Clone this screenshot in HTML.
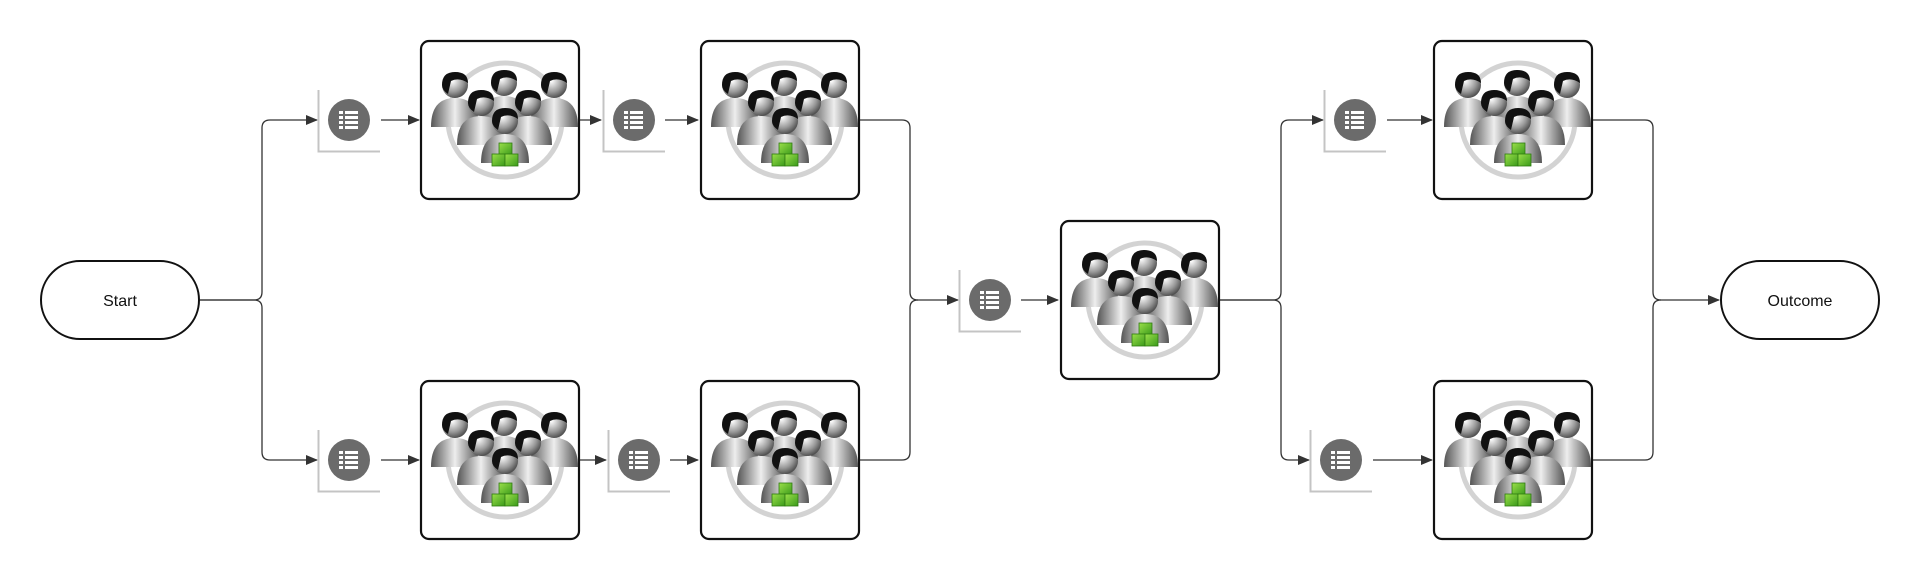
<!DOCTYPE html>
<html><head><meta charset="utf-8"><style>
html,body{margin:0;padding:0;background:#fff;width:1920px;height:580px;overflow:hidden}
text{font-family:"Liberation Sans",sans-serif}
</style></head><body>
<svg width="1920" height="580" viewBox="0 0 1920 580" xmlns="http://www.w3.org/2000/svg">
<defs>
<radialGradient id="hg" cx="0.4" cy="0.35" r="0.7"><stop offset="0" stop-color="#fff"/><stop offset="0.6" stop-color="#999"/><stop offset="1" stop-color="#444"/></radialGradient>
<linearGradient id="bg" x1="0" x2="1" y1="0" y2="0"><stop offset="0" stop-color="#555"/><stop offset="0.5" stop-color="#eee"/><stop offset="1" stop-color="#555"/></linearGradient>
<linearGradient id="gg" x1="0" x2="1" y1="0" y2="1"><stop offset="0" stop-color="#9be04a"/><stop offset="1" stop-color="#3a9a1a"/></linearGradient>
<marker id="ar" markerWidth="12" markerHeight="10" refX="11" refY="5" orient="auto" markerUnits="userSpaceOnUse"><path d="M0,0 L12,5 L0,10 Z" fill="#333"/></marker>
<g id="pp">
<path d="M-24,42 Q-24,13 0,13 Q24,13 24,42 Z" fill="url(#bg)"/>
<circle cx="0" cy="0" r="13" fill="url(#hg)"/>
<path d="M-13,0 Q-13,-13 0,-13 Q13,-13 13,-2 Q4,-8 -4,-4 L-7,9 Q-13,5 -13,0 Z" fill="#111"/>
</g>
<g id="ppl">
<circle cx="85" cy="80" r="57" fill="none" stroke="#d3d3d3" stroke-width="5"/>
<use href="#pp" x="35" y="45"/>
<use href="#pp" x="134" y="45"/>
<use href="#pp" x="84" y="43"/>
<use href="#pp" x="61" y="63"/>
<use href="#pp" x="108" y="63"/>
<use href="#pp" x="85" y="81"/>
<rect x="79" y="103" width="13" height="12" fill="url(#gg)" stroke="#2d7a10" stroke-width="0.8"/>
<rect x="72" y="114" width="13" height="12" fill="url(#gg)" stroke="#2d7a10" stroke-width="0.8"/>
<rect x="85" y="114" width="13" height="12" fill="url(#gg)" stroke="#2d7a10" stroke-width="0.8"/>
</g>
<g id="doc">
<path d="M0.5,0 L0.5,61.5 L62,61.5" fill="none" stroke="#c4c4c4" stroke-width="2"/>
<circle cx="31" cy="30" r="21" fill="#6b6b6b"/>
<g fill="#fff"><rect x="21" y="21" width="4" height="3"/><rect x="27" y="21" width="13" height="3"/><rect x="21" y="26" width="4" height="3"/><rect x="27" y="26" width="13" height="3"/><rect x="21" y="31" width="4" height="3"/><rect x="27" y="31" width="13" height="3"/><rect x="21" y="36" width="4" height="3"/><rect x="27" y="36" width="13" height="3"/></g>
</g>
<g id="box"><rect x="1" y="1" width="158" height="158" rx="8" fill="#fff" stroke="#111" stroke-width="2.2"/><use href="#ppl"/></g>
</defs>

<g fill="none" stroke="#333" stroke-width="1.3">
<path d="M200,300 H254 Q262,300 262,292 V128 Q262,120 270,120 H317" marker-end="url(#ar)"/>
<path d="M200,300 H254 Q262,300 262,308 V452 Q262,460 270,460 H317" marker-end="url(#ar)"/>
<path d="M381,120 H419" marker-end="url(#ar)"/>
<path d="M381,460 H419" marker-end="url(#ar)"/>
<path d="M580,120 H601" marker-end="url(#ar)"/>
<path d="M580,460 H606" marker-end="url(#ar)"/>
<path d="M665,120 H698" marker-end="url(#ar)"/>
<path d="M670,460 H698" marker-end="url(#ar)"/>
<path d="M860,120 H902 Q910,120 910,128 V292 Q910,300 918,300 H958" marker-end="url(#ar)"/>
<path d="M860,460 H902 Q910,460 910,452 V308 Q910,300 918,300"/>
<path d="M1021,300 H1058" marker-end="url(#ar)"/>
<path d="M1220,300 H1273 Q1281,300 1281,292 V128 Q1281,120 1289,120 H1323" marker-end="url(#ar)"/>
<path d="M1220,300 H1273 Q1281,300 1281,308 V452 Q1281,460 1289,460 H1309" marker-end="url(#ar)"/>
<path d="M1387,120 H1432" marker-end="url(#ar)"/>
<path d="M1373,460 H1432" marker-end="url(#ar)"/>
<path d="M1593,120 H1645 Q1653,120 1653,128 V292 Q1653,300 1661,300 H1719" marker-end="url(#ar)"/>
<path d="M1593,460 H1645 Q1653,460 1653,452 V308 Q1653,300 1661,300"/>
</g>

<rect x="41" y="261" width="158" height="78" rx="39" fill="#fff" stroke="#111" stroke-width="2"/>
<text x="120" y="306" font-size="16" text-anchor="middle" fill="#111">Start</text>
<rect x="1721" y="261" width="158" height="78" rx="39" fill="#fff" stroke="#111" stroke-width="2"/>
<text x="1800" y="306" font-size="16" text-anchor="middle" fill="#111">Outcome</text>

<use href="#doc" x="318" y="90"/>
<use href="#doc" x="603" y="90"/>
<use href="#doc" x="318" y="430"/>
<use href="#doc" x="608" y="430"/>
<use href="#doc" x="959" y="270"/>
<use href="#doc" x="1324" y="90"/>
<use href="#doc" x="1310" y="430"/>

<use href="#box" x="420" y="40"/>
<use href="#box" x="700" y="40"/>
<use href="#box" x="420" y="380"/>
<use href="#box" x="700" y="380"/>
<use href="#box" x="1060" y="220"/>
<use href="#box" x="1433" y="40"/>
<use href="#box" x="1433" y="380"/>
</svg>
</body></html>
